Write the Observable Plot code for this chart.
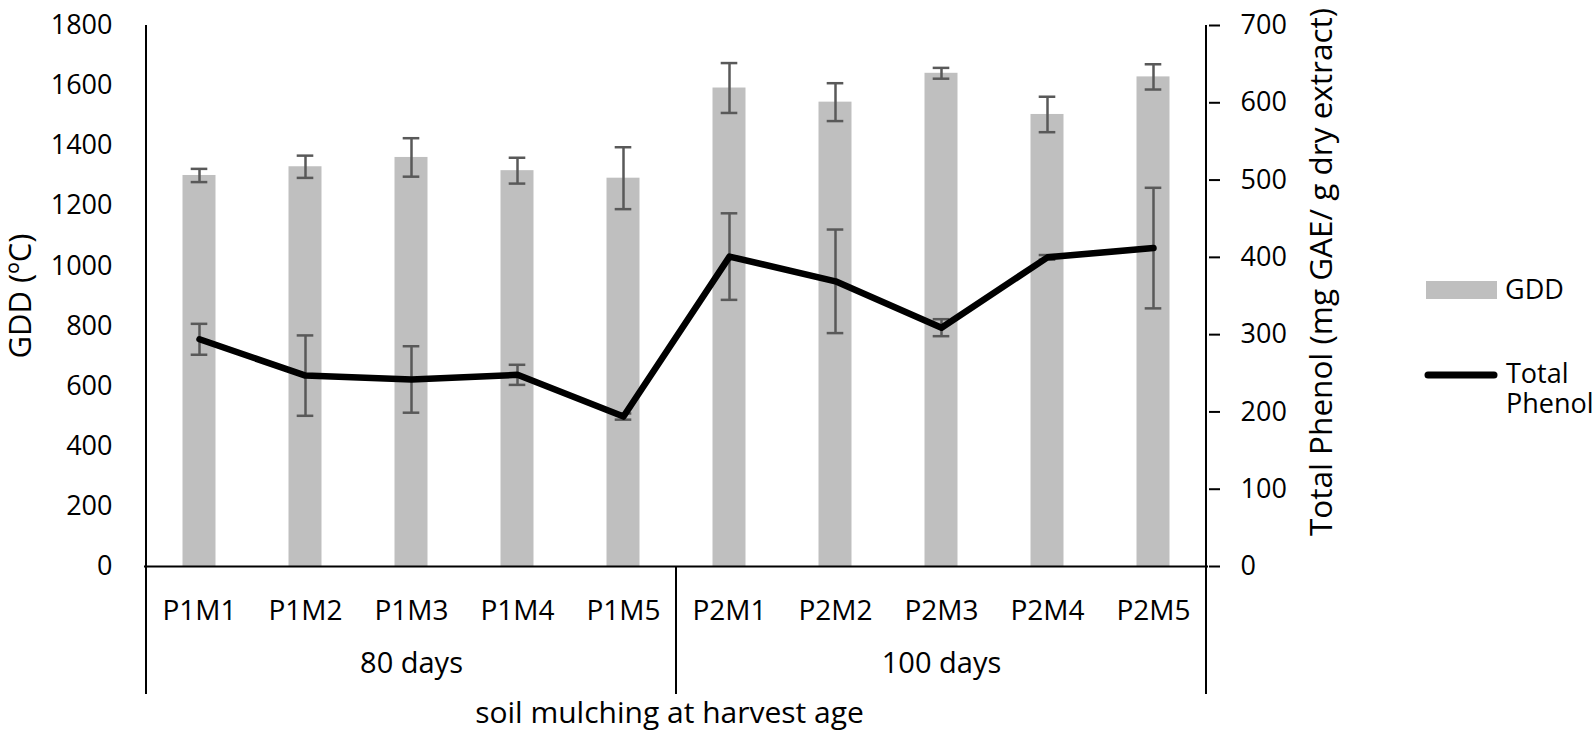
<!DOCTYPE html>
<html><head><meta charset="utf-8">
<script src="https://cdn.jsdelivr.net/npm/d3@7"></script>
<script src="https://cdn.jsdelivr.net/npm/@observablehq/plot@0.6"></script>
<style>
html,body{margin:0;padding:0;background:#fff;}
svg{display:block;}
</style></head><body><div id="chart"></div>
<script>
const categories = ["P1M1","P1M2","P1M3","P1M4","P1M5","P2M1","P2M2","P2M3","P2M4","P2M5"];
const groupOf = ["80 days","80 days","80 days","80 days","80 days","100 days","100 days","100 days","100 days","100 days"];
const groups = ["80 days","100 days"];
const gdd = [1301,1330,1361,1317,1292,1592,1545,1641,1504,1629];
const gddErr = [22,37,64,43,103,83,63,18,59,42];
const phenol = [294,247,242,248,194,401,369,309,400,412];
const phenolErr = [20,52,43,13,4,56,67,11,3,78];
const gddTicks = [0,200,400,600,800,1000,1200,1400,1600,1800];
const phenolTicks = [0,100,200,300,400,500,600,700];
const seriesNames = ["GDD","Total Phenol"];
const leftTitle = "GDD (ºC)";
const rightTitle = "Total Phenol (mg GAE/ g dry extract)";
const xTitle = "soil mulching at harvest age";

const gddMax = gddTicks[gddTicks.length-1];
const phMax = phenolTicks[phenolTicks.length-1];
const k = gddMax/phMax; // map phenol onto GDD scale

const rows = categories.map((c,i)=>({
  cat:c, group:groupOf[i], gdd:gdd[i], gLo:gdd[i]-gddErr[i], gHi:gdd[i]+gddErr[i],
  ph:phenol[i]*k, pLo:(phenol[i]-phenolErr[i])*k, pHi:(phenol[i]+phenolErr[i])*k
}));
const groupRows = groups.map(g=>{
  const members = categories.filter((c,i)=>groupOf[i]===g);
  return {name:g, mid:members[Math.floor(members.length/2)], first:members[0], last:members[members.length-1]};
});

const errColor = "#595959";
const plot = Plot.plot({
  width:1594, height:737,
  marginLeft:144, marginRight:386, marginTop:25, marginBottom:171,
  style:{fontFamily:"'Open Sans', sans-serif", fontSize:"27px", color:"#000", background:"#fff", overflow:"visible"},
  x:{type:"band", domain:categories, padding:0, label:null},
  y:{domain:[0,gddMax], label:null},
  marks:[
    Plot.barY(rows,{x:"cat", y:"gdd", fill:"#bfbfbf", insetLeft:36.5, insetRight:36.5}),
    Plot.ruleX(rows,{x:"cat", y1:"gLo", y2:"gHi", stroke:errColor, strokeWidth:2.5}),
    Plot.tickY(rows,{x:"cat", y:"gLo", stroke:errColor, strokeWidth:2.5, insetLeft:44.7, insetRight:44.7}),
    Plot.tickY(rows,{x:"cat", y:"gHi", stroke:errColor, strokeWidth:2.5, insetLeft:44.7, insetRight:44.7}),
    Plot.ruleX(rows,{x:"cat", y1:"pLo", y2:"pHi", stroke:errColor, strokeWidth:2.5}),
    Plot.tickY(rows,{x:"cat", y:"pLo", stroke:errColor, strokeWidth:2.5, insetLeft:44.7, insetRight:44.7}),
    Plot.tickY(rows,{x:"cat", y:"pHi", stroke:errColor, strokeWidth:2.5, insetLeft:44.7, insetRight:44.7}),
    Plot.lineY(rows,{x:"cat", y:"ph", stroke:"#000", strokeWidth:6.5, strokeLinejoin:"round", strokeLinecap:"round"}),
    Plot.ruleY([0],{stroke:"#000", strokeWidth:2}),
    Plot.axisY(gddTicks,{anchor:"left", tickSize:0, tickPadding:32, label:null, fontSize:27, tickFormat:d=>String(d)}),
    Plot.axisY(phenolTicks.map(t=>t*k),{anchor:"right", tickSize:11, tickPadding:21, stroke:"#000", strokeWidth:2, label:null, fontSize:27, tickFormat:d=>String(Math.round(d/k))}),
    Plot.axisX({anchor:"bottom", tickSize:0, tickPadding:34, label:null, fontSize:28}),
    Plot.text(groupRows,{x:"mid", text:"name", frameAnchor:"bottom", dy:106, fontSize:29, fill:"#000"}),
    Plot.text([xTitle],{text:d=>d, frameAnchor:"bottom", dy:156, dx:-7, fontSize:30, fill:"#000"}),
    Plot.text([leftTitle],{text:d=>d, frameAnchor:"left", textAnchor:"middle", dx:-123, rotate:-90, fontSize:31, fill:"#000"}),
    Plot.text([rightTitle],{text:d=>d, frameAnchor:"right", textAnchor:"middle", dx:113, dy:-24, rotate:-90, fontSize:31.5, fill:"#000"})
  ]
});

// frame lines and group separators drawn from the plot's own scales
const xs = plot.scale("x"), ys = plot.scale("y");
const svg = d3.select(plot);
const yTop = ys.apply(gddMax), yBase = ys.apply(0), yBottom = yBase + 128;
const bounds = [xs.apply(categories[0])];
groupRows.forEach(g=>bounds.push(xs.apply(g.last) + xs.step));
bounds.forEach((bx,i)=>{
  const outer = (i===0 || i===bounds.length-1);
  svg.append("line").attr("x1",bx).attr("x2",bx)
    .attr("y1", outer ? yTop : yBase).attr("y2", yBottom)
    .attr("stroke","#000").attr("stroke-width",2);
});

// legend
const lg = svg.append("g").attr("font-family","'Open Sans', sans-serif").attr("font-size",27)
  .attr("fill","#000").attr("text-anchor","start");
lg.append("rect").attr("x",1426).attr("y",281).attr("width",71).attr("height",18).attr("fill","#bfbfbf");
lg.append("text").attr("x",1505).attr("y",290).attr("dy","0.35em").text(seriesNames[0]);
lg.append("line").attr("x1",1428).attr("x2",1494).attr("y1",375).attr("y2",375)
  .attr("stroke","#000").attr("stroke-width",7).attr("stroke-linecap","round");
const words = seriesNames[1].split(" ");
const lt = lg.append("text").attr("x",1506).attr("y",374);
words.forEach((w,i)=>lt.append("tspan").attr("x",1506).attr("dy", i===0 ? "0.35em" : "1.1em").text(w));

document.getElementById("chart").appendChild(plot);
</script></body></html>
